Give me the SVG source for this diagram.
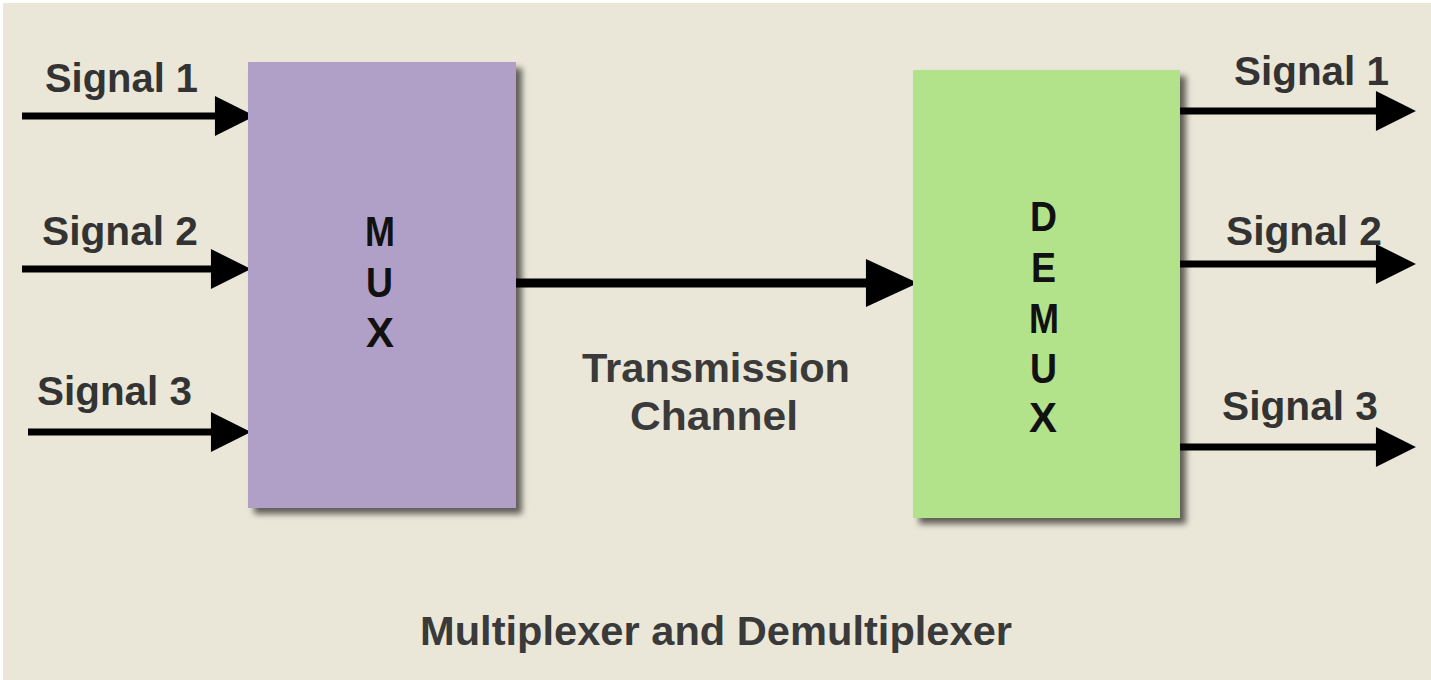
<svg xmlns="http://www.w3.org/2000/svg" width="1431" height="680" viewBox="0 0 1431 680">
<defs>
<filter id="shadow" x="-10%" y="-10%" width="130%" height="130%">
<feGaussianBlur in="SourceAlpha" stdDeviation="3"/>
<feOffset dx="6" dy="6" result="b"/>
<feComponentTransfer><feFuncA type="linear" slope="0.6"/></feComponentTransfer>
<feMerge><feMergeNode/><feMergeNode in="SourceGraphic"/></feMerge>
</filter>
<marker id="ah" markerUnits="userSpaceOnUse" markerWidth="40" markerHeight="40" viewBox="0 0 38 38" refX="1" refY="19" orient="auto" overflow="visible">
<path d="M0,0 L38,19 L0,38 Z" fill="#000"/>
</marker>
<marker id="ahb" markerUnits="userSpaceOnUse" markerWidth="52" markerHeight="52" viewBox="0 0 50 46" refX="1" refY="23" orient="auto" overflow="visible">
<path d="M0,0 L50,23 L0,46 Z" fill="#000"/>
</marker>
</defs>
<style>
.lbl{font-family:"Liberation Sans",Arial,sans-serif;font-weight:bold;font-size:40px;fill:#333333}
.box{font-family:"Liberation Sans",Arial,sans-serif;font-weight:bold;font-size:42px;fill:#111111}
.ln{stroke:#000;stroke-width:7;fill:none}
</style>
<rect x="0" y="0" width="1431" height="680" fill="#ffffff"/>
<rect x="3" y="3" width="1428" height="677" fill="#ebe7d8"/>

<g id="connectors">
<line class="ln" x1="22" y1="116" x2="216" y2="116" marker-end="url(#ah)"/>
<line class="ln" x1="22" y1="269" x2="212" y2="269" marker-end="url(#ah)"/>
<line class="ln" x1="28" y1="432" x2="212" y2="432" marker-end="url(#ah)"/>
<line class="ln" x1="512" y1="283" x2="867" y2="283" style="stroke-width:9" marker-end="url(#ahb)"/>
<line class="ln" x1="1180" y1="111" x2="1377" y2="111" marker-end="url(#ah)"/>
<line class="ln" x1="1180" y1="264" x2="1377" y2="264" marker-end="url(#ah)"/>
<line class="ln" x1="1180" y1="447" x2="1377" y2="447" marker-end="url(#ah)"/>
</g>

<g id="mux">
<rect x="248" y="62" width="268" height="446" fill="#b0a0c8" filter="url(#shadow)"/>
<text class="box" x="365" y="246" textLength="30" lengthAdjust="spacingAndGlyphs">M</text>
<text class="box" x="366" y="297" textLength="27" lengthAdjust="spacingAndGlyphs">U</text>
<text class="box" x="366" y="347" textLength="28" lengthAdjust="spacingAndGlyphs">X</text>
</g>

<g id="demux">
<rect x="913" y="70" width="267" height="448" fill="#b2e28a" filter="url(#shadow)"/>
<text class="box" x="1030" y="231" textLength="27" lengthAdjust="spacingAndGlyphs">D</text>
<text class="box" x="1031" y="282" textLength="25" lengthAdjust="spacingAndGlyphs">E</text>
<text class="box" x="1029" y="333" textLength="30" lengthAdjust="spacingAndGlyphs">M</text>
<text class="box" x="1030" y="383" textLength="27" lengthAdjust="spacingAndGlyphs">U</text>
<text class="box" x="1029" y="432" textLength="28" lengthAdjust="spacingAndGlyphs">X</text>
</g>

<g id="labels">
<text class="lbl" x="45" y="92" textLength="153" lengthAdjust="spacingAndGlyphs">Signal 1</text>
<text class="lbl" x="42" y="245" textLength="156" lengthAdjust="spacingAndGlyphs">Signal 2</text>
<text class="lbl" x="37" y="405" textLength="155" lengthAdjust="spacingAndGlyphs">Signal 3</text>
<text class="lbl" x="1234" y="85" textLength="155" lengthAdjust="spacingAndGlyphs">Signal 1</text>
<text class="lbl" x="1226" y="245" textLength="156" lengthAdjust="spacingAndGlyphs">Signal 2</text>
<text class="lbl" x="1222" y="420" textLength="156" lengthAdjust="spacingAndGlyphs">Signal 3</text>
<text class="lbl" x="582" y="382" textLength="268" lengthAdjust="spacingAndGlyphs" style="fill:#3a3a3a">Transmission</text>
<text class="lbl" x="630" y="430" textLength="168" lengthAdjust="spacingAndGlyphs" style="fill:#3a3a3a">Channel</text>
<text class="lbl" x="420" y="645" textLength="592" lengthAdjust="spacingAndGlyphs" style="fill:#3a3a3a">Multiplexer and Demultiplexer</text>
</g>
</svg>
